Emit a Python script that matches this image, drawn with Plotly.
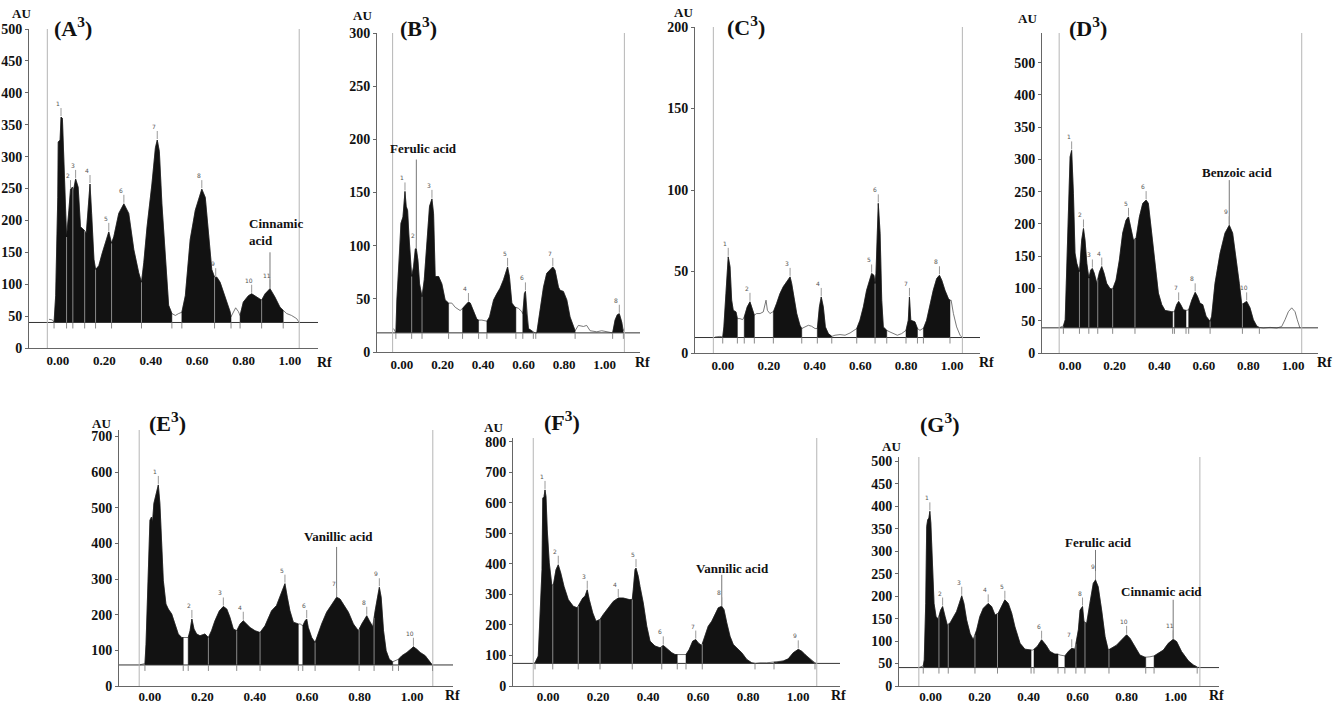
import numpy as np
import plotly.graph_objects as go

# ---------------- DATA ----------------
rf_ticks = [0.0, 0.2, 0.4, 0.6, 0.8, 1.0]
rf_tick_text = ["0.00", "0.20", "0.40", "0.60", "0.80", "1.00"]

# Panel A3
A_rf = [-0.039,-0.024,-0.017,-0.010,-0.001,0.001,0.009,0.013,0.019,0.026,0.033,0.037,0.047,0.054,0.062,0.067,0.076,0.087,0.097,0.112,0.122,0.130,0.138,0.145,0.155,0.162,0.176,0.191,0.205,0.219,0.231,0.241,0.262,0.284,0.305,0.327,0.348,0.360,0.370,0.384,0.405,0.420,0.428,0.437,0.448,0.463,0.477,0.491,0.506,0.520,0.534,0.549,0.570,0.592,0.620,0.635,0.649,0.663,0.675,0.685,0.699,0.721,0.742,0.746,0.756,0.766,0.778,0.785,0.799,0.821,0.835,0.857,0.878,0.893,0.914,0.935,0.957,0.971,0.986,1.007,1.029,1.040]
A_au = [45,44,40,82,236,323,326,362,360,288,185,174,216,249,252,247,265,252,190,185,180,216,257,211,139,123,129,149,164,182,164,175,211,226,211,154,118,103,134,190,257,314,326,308,226,134,67,54,51,54,56,82,170,216,249,236,185,123,111,111,103,80,57,49,57,63,57,51,72,82,85,80,75,85,93,80,64,59,54,51,46,40]
A_base = 40
A_fills = [(-0.017, 0.491), (0.534, 0.746), (0.785, 0.971)]
A_seps = [0.037, 0.064, 0.115, 0.162, 0.231, 0.360, 0.675, 0.878]
A_peak_rf = [0.013, 0.054, 0.076, 0.138, 0.219, 0.284, 0.428, 0.620, 0.680, 0.835, 0.914]
A_peak_au = [362, 249, 265, 257, 182, 226, 326, 249, 111, 85, 93]
A_front = [-0.046, 1.040]
A_labels = [("Cinnamic<br>acid", 0.94, 182, 0.914, 93, 150)]
A_yticks = [0, 50, 100, 150, 200, 250, 300, 350, 400, 450, 500]
A_ytext = ["0", "50", "100", "150", "200", "250", "300", "350", "400", "450", "500"]

# Panel B3
B_rf = [-0.041,-0.033,-0.030,-0.025,-0.011,-0.005,0.005,0.011,0.015,0.021,0.028,0.034,0.041,0.048,0.057,0.066,0.071,0.079,0.087,0.099,0.110,0.123,0.136,0.148,0.156,0.164,0.181,0.197,0.213,0.230,0.246,0.263,0.287,0.299,0.312,0.328,0.337,0.353,0.369,0.378,0.394,0.419,0.432,0.452,0.468,0.484,0.501,0.521,0.530,0.542,0.558,0.562,0.575,0.591,0.596,0.604,0.609,0.616,0.624,0.640,0.657,0.665,0.681,0.698,0.714,0.731,0.744,0.755,0.772,0.780,0.796,0.813,0.829,0.854,0.870,0.895,0.911,0.928,0.961,0.985,1.010,1.034,1.039,1.051,1.062,1.072,1.084,1.092,1.097]
B_au = [22,18,18,49,96,121,127,149,151,137,133,111,86,71,80,97,97,86,64,52,68,105,137,144,130,71,71,64,49,46,46,42,39,41,44,47,46,38,31,30,30,29,33,49,55,60,68,80,71,46,42,42,41,38,36,55,57,36,22,20,18,18,39,61,74,77,80,77,61,58,57,49,33,20,25,24,25,20,19,20,19,18,18,30,35,36,28,20,22]
B_base = 18
B_fills = [(-0.030, 0.230), (0.299, 0.378), (0.419, 0.562), (0.596, 0.648), (0.660, 0.854), (1.039, 1.092)]
B_seps = [0.048, 0.099]
B_peak_rf = [0.015, 0.071, 0.148, 0.328, 0.521, 0.609, 0.744, 1.072]
B_peak_au = [151, 97, 144, 47, 80, 57, 80, 36]
B_front = [-0.046, 1.097]
B_labels = [("Ferulic acid", 0.107, 191, 0.071, 97, 181)]
B_yticks = [0, 50, 100, 150, 200, 250, 300]
B_ytext = ["0", "50", "100", "150", "200", "250", "300"]

# Panel C3
C_rf = [-0.035,-0.013,-0.001,0.004,0.013,0.020,0.023,0.031,0.038,0.045,0.057,0.063,0.074,0.086,0.093,0.106,0.118,0.130,0.137,0.147,0.162,0.176,0.188,0.194,0.205,0.217,0.220,0.234,0.249,0.263,0.278,0.293,0.300,0.307,0.322,0.336,0.344,0.358,0.373,0.387,0.402,0.412,0.421,0.429,0.438,0.447,0.460,0.475,0.489,0.511,0.533,0.555,0.576,0.584,0.598,0.613,0.627,0.639,0.649,0.659,0.664,0.668,0.674,0.678,0.686,0.693,0.700,0.715,0.729,0.744,0.761,0.780,0.795,0.799,0.809,0.814,0.820,0.828,0.838,0.849,0.860,0.872,0.875,0.889,0.904,0.918,0.933,0.945,0.955,0.969,0.984,0.991,0.996,1.006,1.020,1.035,1.045]
C_au = [9.8,10.2,9.8,16,36.5,58,59,52.9,32.4,26.2,25.2,21.1,21.1,20.5,22.1,28.3,31.4,26.2,23.2,24.2,24.2,25.2,32.4,26.2,24.2,25.2,25.2,30.3,36.5,40.6,43.6,46.7,42.6,36.5,24.2,17,15,16,17,16.4,15,15,28.3,34.4,28.3,16,11.9,10.2,10.9,11.3,10.9,12.3,13.9,15,20.1,28.3,38.5,44.7,48.8,47.7,42.6,48.8,73.4,91.8,73.4,32.4,16,13.9,12.9,11.9,10.9,11.9,13.9,13.9,20.1,34.4,20.1,19.7,19.1,15,13.9,15,15,20.1,30.3,38.5,45.7,47.7,44.7,38.5,33.4,32.4,32.4,24.2,16,10.9,9.4]
C_base = 9.5
C_fills = [(-0.001, 0.063), (0.093, 0.137), (0.220, 0.344), (0.412, 0.475), (0.584, 0.715), (0.799, 0.849), (0.875, 0.991)]
C_seps = [0.664]
C_peak_rf = [0.023, 0.118, 0.293, 0.429, 0.649, 0.678, 0.814, 0.945]
C_peak_au = [59, 31.4, 46.7, 34.4, 48.8, 91.8, 34.4, 47.7]
C_front = [-0.042, 1.045]
C_labels = []
C_yticks = [0, 50, 100, 150, 200]
C_ytext = ["0", "50", "100", "150", "200"]

# Panel D3
D_rf = [-0.045,-0.037,-0.030,-0.022,-0.015,-0.007,0.000,0.007,0.015,0.022,0.030,0.042,0.052,0.060,0.067,0.075,0.084,0.093,0.100,0.108,0.120,0.132,0.142,0.152,0.164,0.179,0.191,0.206,0.221,0.236,0.251,0.262,0.272,0.284,0.296,0.311,0.326,0.341,0.351,0.366,0.381,0.396,0.411,0.426,0.456,0.460,0.468,0.478,0.487,0.496,0.508,0.520,0.532,0.546,0.561,0.571,0.583,0.595,0.610,0.628,0.635,0.650,0.673,0.695,0.714,0.729,0.744,0.759,0.770,0.792,0.807,0.822,0.837,0.849,0.867,0.897,0.927,0.949,0.964,0.979,0.994,1.009,1.019,1.031]
D_au = [39.7,41,42,51.5,134,258,304,314,247,155,139,126,175,193,175,139,116,129,131,124,108,126,134,124,108,100,99,113,144,186,206,211,196,175,178,211,232,237,232,186,134,93,75,66,64,64,64,75,80,75,67,66,67,82,94,88,77,75,57,49,57,108,155,186,198,186,149,108,75,80,70,51.5,42,39.7,38.7,39.7,38.7,41,51.5,64,70,64,51.5,38.7]
D_base = 39
D_fills = [(-0.030, 0.460), (0.468, 0.520), (0.532, 0.849)]
D_seps = [0.042, 0.084, 0.124, 0.191, 0.291, 0.628, 0.773]
D_peak_rf = [0.007, 0.060, 0.100, 0.142, 0.262, 0.341, 0.487, 0.561, 0.714, 0.792]
D_peak_au = [314, 193, 131, 134, 211, 237, 80, 94, 198, 80]
D_front = [-0.049, 1.039]
D_labels = [("Benzoic acid", 0.748, 279, 0.714, 198, 268)]
D_yticks = [0, 50, 100, 150, 200, 250, 300, 350, 400, 450]
D_ytext = ["0", "50", "100", "150", "200", "250", "300", "350", "400", "500"]

# Panel E3
E_rf = [-0.041,-0.025,-0.019,-0.015,-0.006,0.000,0.006,0.010,0.015,0.023,0.032,0.038,0.045,0.051,0.061,0.070,0.083,0.095,0.108,0.121,0.127,0.137,0.146,0.153,0.160,0.168,0.178,0.191,0.210,0.223,0.235,0.248,0.265,0.280,0.293,0.305,0.318,0.331,0.344,0.356,0.369,0.382,0.401,0.420,0.439,0.452,0.464,0.483,0.503,0.515,0.524,0.534,0.547,0.560,0.566,0.573,0.583,0.592,0.598,0.604,0.617,0.630,0.641,0.655,0.674,0.693,0.712,0.725,0.738,0.757,0.776,0.795,0.808,0.827,0.837,0.850,0.859,0.868,0.875,0.882,0.891,0.901,0.913,0.926,0.935,0.948,0.961,0.980,0.999,1.005,1.018,1.031,1.050,1.062,1.075,1.079]
E_au = [59,61,63,117,324,465,474,460,512,540,564,512,399,296,230,216,202,174,146,136,136,136,136,155,188,160,146,141,146,136,155,183,211,223,216,193,160,155,174,183,174,164,155,150,169,193,211,226,268,287,249,211,179,174,174,174,169,183,188,164,136,122,146,174,207,230,249,244,230,207,174,155,174,197,183,166,211,249,277,249,155,99,75,68,70,75,85,94,106,110,103,94,85,72,61,59]
E_base = 59
E_fills = [(-0.019, 0.127), (0.146, 0.566), (0.583, 0.926), (0.948, 1.078)]
E_seps = [0.223, 0.331, 0.420, 0.630, 0.798, 0.855]
E_peak_rf = [0.032, 0.160, 0.280, 0.356, 0.515, 0.598, 0.712, 0.827, 0.875, 1.005]
E_peak_au = [564, 188, 223, 183, 287, 188, 249, 197, 277, 110]
E_front = [-0.041, 1.079]
E_labels = [("Vanillic acid", 0.718, 418, 0.712, 249, 390)]
E_yticks = [0, 100, 200, 300, 400, 500, 600, 700]
E_ytext = ["0", "100", "200", "300", "400", "500", "600", "700"]

# Panel F3
F_rf = [-0.059,-0.052,-0.039,-0.029,-0.024,-0.021,-0.016,-0.012,-0.008,-0.003,0.005,0.015,0.021,0.032,0.041,0.051,0.064,0.081,0.101,0.117,0.128,0.139,0.148,0.157,0.165,0.179,0.192,0.208,0.221,0.241,0.261,0.281,0.301,0.325,0.337,0.341,0.348,0.352,0.361,0.368,0.381,0.395,0.408,0.428,0.448,0.461,0.475,0.495,0.508,0.517,0.528,0.541,0.552,0.565,0.579,0.591,0.601,0.615,0.628,0.641,0.655,0.668,0.681,0.695,0.704,0.715,0.728,0.741,0.755,0.775,0.795,0.815,0.828,0.848,0.875,0.904,0.915,0.941,0.961,0.981,1.001,1.015,1.028,1.048,1.068,1.075]
F_au = [74,76,98,272,381,615,620,642,620,511,403,332,329,381,397,370,326,283,261,256,272,288,294,315,283,239,212,218,234,256,277,288,288,283,283,315,381,386,359,326,272,196,147,131,125,133,122,109,103,103,103,103,103,120,147,152,141,133,163,196,212,234,256,261,250,207,163,136,125,109,87,76,74,76,76,78,78,82,89,109,120,114,103,89,76,74]
F_base = 74
F_fills = [(-0.052, 0.517), (0.552, 0.828), (0.904, 1.068)]
F_seps = [0.019, 0.121, 0.208, 0.337, 0.455, 0.617]
F_peak_rf = [-0.012, 0.041, 0.157, 0.281, 0.352, 0.461, 0.591, 0.695, 1.001]
F_peak_au = [642, 397, 315, 288, 386, 133, 152, 261, 120]
F_front = [-0.059, 1.075]
F_labels = [("Vannilic acid", 0.738, 384, 0.695, 261, 364)]
F_yticks = [0, 100, 200, 300, 400, 500, 600, 700, 800]
F_ytext = ["0", "100", "200", "300", "400", "500", "600", "700", "800"]

# Panel G3
G_rf = [-0.048,-0.037,-0.030,-0.026,-0.020,-0.016,-0.012,-0.007,-0.003,0.001,0.007,0.014,0.022,0.031,0.041,0.049,0.059,0.068,0.079,0.093,0.106,0.117,0.127,0.136,0.147,0.161,0.174,0.188,0.201,0.215,0.235,0.249,0.263,0.276,0.290,0.303,0.317,0.331,0.344,0.365,0.385,0.405,0.410,0.416,0.422,0.435,0.453,0.471,0.487,0.507,0.517,0.520,0.528,0.541,0.548,0.562,0.576,0.589,0.603,0.610,0.620,0.626,0.637,0.650,0.664,0.673,0.684,0.698,0.712,0.725,0.739,0.759,0.780,0.800,0.814,0.834,0.854,0.875,0.878,0.895,0.912,0.929,0.950,0.970,0.990,1.004,1.024,1.052,1.072,1.086,1.088,1.099]
G_au = [41,43,45,58,184,355,370,374,389,363,259,184,155,149,169,177,155,136,140,155,166,184,201,184,147,117,103,125,155,173,184,177,158,162,177,192,184,162,132,95,82,80,80,80,82,88,103,91,77,71,71,71,69,67,67,77,84,82,125,169,177,143,140,184,229,236,221,169,110,80,84,91,103,114,106,88,69,64,64,65,67,73,80,95,104,99,77,56,47,43,42,41]
G_base = 41
G_fills = [(-0.030, 0.410), (0.422, 0.520), (0.548, 0.878), (0.912, 1.088)]
G_seps = [0.034, 0.072, 0.181, 0.273, 0.593, 0.630, 0.728]
G_peak_rf = [-0.003, 0.049, 0.127, 0.235, 0.303, 0.453, 0.576, 0.620, 0.673, 0.800, 0.990]
G_peak_au = [389, 177, 201, 184, 192, 103, 84, 177, 236, 114, 104]
G_front = [-0.048, 1.099]
G_labels = [("Ferulic acid", 0.685, 320, 0.673, 236, 303),
            ("Cinnamic acid", 0.943, 210, 0.990, 104, 192)]
G_yticks = [0, 50, 100, 150, 200, 250, 300, 350, 400, 450, 500]
G_ytext = ["0", "50", "100", "150", "200", "250", "300", "350", "400", "450", "500"]

panel_names = ["A", "B", "C", "D", "E", "F", "G"]

# ---------------- LAYOUT GEOMETRY (pixels) ----------------
W, H = 1338, 705
GEO = {
    "A": dict(px=(29, 318), py=(29, 348), xr=(-0.125, 1.121), ymax=500, title=(73, 27), au=(21, 13), rfl=(324, 362), lso=0),
    "B": dict(px=(377, 640), py=(33, 352), xr=(-0.123, 1.174), ymax=300, title=(418, 27), au=(362, 15), rfl=(642, 362), lso=0),
    "C": dict(px=(695, 980), py=(27, 353), xr=(-0.122, 1.122), ymax=200, title=(746, 26), au=(683, 12), rfl=(986, 362), lso=0),
    "D": dict(px=(1042, 1318), py=(33, 353), xr=(-0.126, 1.112), ymax=496, title=(1088, 27), au=(1027, 18), rfl=(1324, 362), lso=0),
    "E": dict(px=(119, 453), py=(430, 686), xr=(-0.118, 1.156), ymax=718, title=(167, 422), au=(101, 423), rfl=(453, 695), lso=-2),
    "F": dict(px=(513, 840), py=(438, 686), xr=(-0.140, 1.168), ymax=812, title=(562, 421), au=(494, 427), rfl=(838, 695), lso=-2),
    "G": dict(px=(899, 1219), py=(457, 686), xr=(-0.129, 1.177), ymax=510, title=(940, 423), au=(891, 446), rfl=(1216, 695), lso=-2),
}

SERIF = "Liberation Serif, Times New Roman, serif"
FILL = "#121212"

def px2paper(x, y):
    return x / W, 1 - y / H

fig = go.Figure()
shapes = []
annotations = []
layout_axes = {}

for i, name in enumerate(panel_names):
    g = globals()
    rf = np.array(g[name + "_rf"], dtype=float)
    au = np.array(g[name + "_au"], dtype=float)
    base = g[name + "_base"]
    fills = g[name + "_fills"]
    seps = g[name + "_seps"]
    pk_rf = g[name + "_peak_rf"]
    pk_au = g[name + "_peak_au"]
    front = g[name + "_front"]
    labels = g[name + "_labels"]
    yt = g[name + "_yticks"]
    ytt = g[name + "_ytext"]
    geo = GEO[name]

    idx = i + 1
    xa = "x" if idx == 1 else "x%d" % idx
    ya = "y" if idx == 1 else "y%d" % idx
    xkey = "xaxis" if idx == 1 else "xaxis%d" % idx
    ykey = "yaxis" if idx == 1 else "yaxis%d" % idx

    fig.add_trace(go.Scatter(x=rf, y=au, mode="lines", xaxis=xa, yaxis=ya,
                             line=dict(color="#555555", width=0.8), hoverinfo="skip"))
    for (s, e) in fills:
        m = (rf >= s - 1e-9) & (rf <= e + 1e-9)
        xs = [s] + list(rf[m]) + [e]
        ys = [base] + list(au[m]) + [base]
        fig.add_trace(go.Scatter(x=xs, y=ys, mode="lines", fill="toself", fillcolor=FILL,
                                 line=dict(color=FILL, width=0.5), xaxis=xa, yaxis=ya, hoverinfo="skip"))
    sx, sy = [], []
    for s in seps:
        sx += [s, s, None]
        sy += [base, float(np.interp(s, rf, au)), None]
    if seps:
        fig.add_trace(go.Scatter(x=sx, y=sy, mode="lines", xaxis=xa, yaxis=ya,
                                 line=dict(color="#8a8a8a", width=1), hoverinfo="skip"))
    for (txt, tx, ty, lx, lb, lt) in labels:
        fig.add_trace(go.Scatter(x=[lx, lx], y=[lb, lt], mode="lines", xaxis=xa, yaxis=ya,
                                 line=dict(color="#777777", width=1), hoverinfo="skip"))
        annotations.append(dict(x=tx, y=ty, xref=xa, yref=ya, text="<b>%s</b>" % txt,
                                showarrow=False, align="left", xanchor="center", yanchor="middle",
                                font=dict(family=SERIF, size=13, color="#111")))

    shapes.append(dict(type="line", xref=xa + " domain", yref=ya, x0=0, x1=1, y0=base, y1=base,
                       line=dict(color="#333333", width=1)))
    for fx in front:
        shapes.append(dict(type="line", xref=xa, yref=ya + " domain", x0=fx, x1=fx, y0=0, y1=1,
                           line=dict(color="#b5b5b5", width=1)))
    bounds = sorted(set([b for se in fills for b in se] + list(seps)))
    for b in bounds:
        shapes.append(dict(type="line", xref=xa, yref=ya, x0=b, x1=b, ysizemode="pixel",
                           yanchor=base, y0=0, y1=-6, line=dict(color="#8a8a8a", width=1)))
    for k, (prf, pau) in enumerate(zip(pk_rf, pk_au)):
        shapes.append(dict(type="line", xref=xa, yref=ya, x0=prf, x1=prf, ysizemode="pixel",
                           yanchor=pau, y0=1, y1=9, line=dict(color="#9a9a9a", width=1)))
        annotations.append(dict(x=prf, y=pau, xref=xa, yref=ya, text=str(k + 1), showarrow=False,
                                xanchor="center", yanchor="bottom", yshift=8, xshift=-3,
                                font=dict(family="DejaVu Sans, Arial", size=6, color="#555")))

    x0p, _ = px2paper(geo["px"][0], 0)
    x1p, _ = px2paper(geo["px"][1], 0)
    _, y0p = px2paper(0, geo["py"][1])
    _, y1p = px2paper(0, geo["py"][0])
    layout_axes[xkey] = dict(domain=[x0p, x1p], range=list(geo["xr"]), anchor=ya,
                             tickvals=rf_ticks, ticktext=["<b>%s</b>" % t for t in rf_tick_text],
                             showgrid=False, zeroline=False, ticklabelstandoff=geo["lso"],
                             showline=True, linecolor="#666666", linewidth=1, ticks="",
                             tickfont=dict(family=SERIF, size=13, color="#111"), automargin=False)
    layout_axes[ykey] = dict(domain=[y0p, y1p], range=[0, geo["ymax"]], anchor=xa,
                             tickvals=yt, ticktext=["<b>%s</b>" % t for t in ytt],
                             showgrid=False, zeroline=False,
                             showline=True, linecolor="#666666", linewidth=1, ticks="outside",
                             ticklen=3, tickcolor="#666666",
                             tickfont=dict(family=SERIF, size=14, color="#111"), automargin=False)

    tx, ty = px2paper(*geo["title"])
    annotations.append(dict(x=tx, y=ty, xref="paper", yref="paper", showarrow=False,
                            xanchor="center", yanchor="middle",
                            text="<b>(%s<sup>3</sup>)</b>" % name,
                            font=dict(family=SERIF, size=22, color="#111")))
    ax_, ay_ = px2paper(*geo["au"])
    annotations.append(dict(x=ax_, y=ay_, xref="paper", yref="paper", showarrow=False,
                            xanchor="center", yanchor="middle",
                            text="<b>AU</b>", font=dict(family=SERIF, size=13, color="#111")))
    rx, ry = px2paper(*geo["rfl"])
    annotations.append(dict(x=rx, y=ry, xref="paper", yref="paper", showarrow=False,
                            xanchor="center", yanchor="middle",
                            text="<b>Rf</b>", font=dict(family=SERIF, size=14, color="#111")))

fig.update_layout(width=W, height=H, margin=dict(l=0, r=0, t=0, b=0), showlegend=False,
                  plot_bgcolor="white", paper_bgcolor="white",
                  shapes=shapes, annotations=annotations, **layout_axes)

fig.write_html("out.html", config={"displayModeBar": False},
               post_script="document.body.style.margin='0px';document.body.style.padding='0px';")
